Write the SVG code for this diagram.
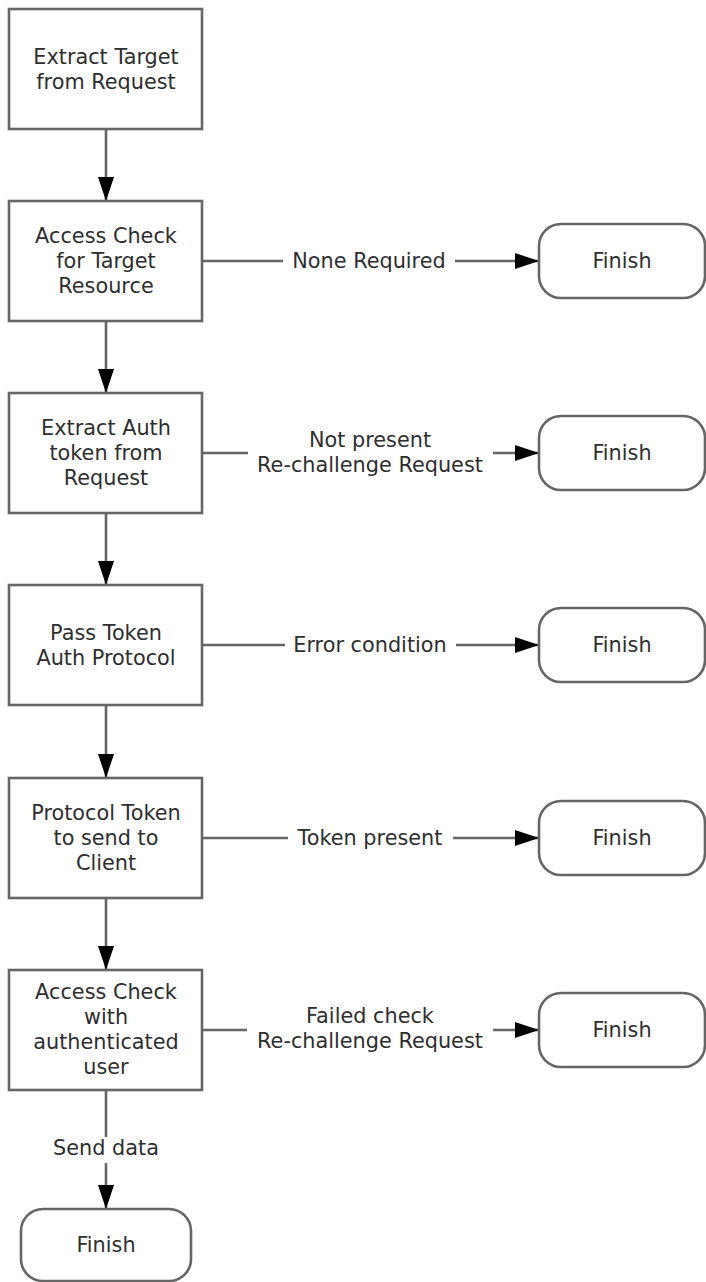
<svg xmlns="http://www.w3.org/2000/svg" width="706" height="1282" viewBox="0 0 706 1282">
<style>
.box{fill:#fff;stroke:#666;stroke-width:2.6}
.term{fill:#fff;stroke:#666;stroke-width:2.6}
.ln{fill:none;stroke:#666;stroke-width:2.6}
.t{font-family:"DejaVu Sans",Verdana,sans-serif;font-size:20.8px;fill:#2e2e2e;text-anchor:middle}
</style>
<defs>
<marker id="ah" markerUnits="userSpaceOnUse" markerWidth="26" markerHeight="18" refX="24" refY="8" orient="auto">
<path d="M0,0 L24,8 L0,16 Z" fill="#000"/>
</marker>
</defs>
<rect width="706" height="1282" fill="#fff"/>
<g id="connectors">
<line class="ln" x1="106" y1="129" x2="106" y2="201" marker-end="url(#ah)"/>
<line class="ln" x1="106" y1="321" x2="106" y2="393" marker-end="url(#ah)"/>
<line class="ln" x1="106" y1="513" x2="106" y2="585" marker-end="url(#ah)"/>
<line class="ln" x1="106" y1="705" x2="106" y2="778" marker-end="url(#ah)"/>
<line class="ln" x1="106" y1="898" x2="106" y2="970" marker-end="url(#ah)"/>
<line class="ln" x1="106" y1="1090" x2="106" y2="1137"/>
<line class="ln" x1="106" y1="1163" x2="106" y2="1209" marker-end="url(#ah)"/>
<text class="t" x="106" y="1155">Send data</text>
<line class="ln" x1="202" y1="261" x2="283" y2="261"/>
<line class="ln" x1="455" y1="261" x2="539" y2="261" marker-end="url(#ah)"/>
<text class="t" x="369" y="268">None Required</text>
<line class="ln" x1="202" y1="453" x2="248" y2="453"/>
<line class="ln" x1="493" y1="453" x2="539" y2="453" marker-end="url(#ah)"/>
<text class="t" x="370" y="447">Not present</text>
<text class="t" x="370" y="472">Re-challenge Request</text>
<line class="ln" x1="202" y1="645" x2="285" y2="645"/>
<line class="ln" x1="456" y1="645" x2="539" y2="645" marker-end="url(#ah)"/>
<text class="t" x="370" y="652">Error condition</text>
<line class="ln" x1="202" y1="838" x2="288" y2="838"/>
<line class="ln" x1="453" y1="838" x2="539" y2="838" marker-end="url(#ah)"/>
<text class="t" x="370" y="845">Token present</text>
<line class="ln" x1="202" y1="1030" x2="247" y2="1030"/>
<line class="ln" x1="493" y1="1030" x2="539" y2="1030" marker-end="url(#ah)"/>
<text class="t" x="370" y="1023">Failed check</text>
<text class="t" x="370" y="1048">Re-challenge Request</text>
</g>
<g id="n1"><rect class="box" x="9" y="9" width="193" height="120"/>
<text class="t" x="106" y="64">Extract Target</text><text class="t" x="106" y="89">from Request</text></g>
<g id="n2"><rect class="box" x="9" y="201" width="193" height="120"/>
<text class="t" x="106" y="243">Access Check</text><text class="t" x="106" y="268">for Target</text><text class="t" x="106" y="293">Resource</text></g>
<g id="n3"><rect class="box" x="9" y="393" width="193" height="120"/>
<text class="t" x="106" y="435">Extract Auth</text><text class="t" x="106" y="460">token from</text><text class="t" x="106" y="485">Request</text></g>
<g id="n4"><rect class="box" x="9" y="585" width="193" height="120"/>
<text class="t" x="106" y="640">Pass Token</text><text class="t" x="106" y="665">Auth Protocol</text></g>
<g id="n5"><rect class="box" x="9" y="778" width="193" height="120"/>
<text class="t" x="106" y="820">Protocol Token</text><text class="t" x="106" y="845">to send to</text><text class="t" x="106" y="870">Client</text></g>
<g id="n6"><rect class="box" x="9" y="970" width="193" height="120"/>
<text class="t" x="106" y="999">Access Check</text><text class="t" x="106" y="1024">with</text><text class="t" x="106" y="1049">authenticated</text><text class="t" x="106" y="1074">user</text></g>
<g id="f1"><rect class="term" x="539" y="224" width="166" height="74" rx="22"/><text class="t" x="622" y="268">Finish</text></g>
<g id="f2"><rect class="term" x="539" y="416" width="166" height="74" rx="22"/><text class="t" x="622" y="460">Finish</text></g>
<g id="f3"><rect class="term" x="539" y="608" width="166" height="74" rx="22"/><text class="t" x="622" y="652">Finish</text></g>
<g id="f4"><rect class="term" x="539" y="801" width="166" height="74" rx="22"/><text class="t" x="622" y="845">Finish</text></g>
<g id="f5"><rect class="term" x="539" y="993" width="166" height="74" rx="22"/><text class="t" x="622" y="1037">Finish</text></g>
<g id="f6"><rect class="term" x="21" y="1209" width="170" height="72" rx="22"/><text class="t" x="106" y="1252">Finish</text></g>
</svg>
